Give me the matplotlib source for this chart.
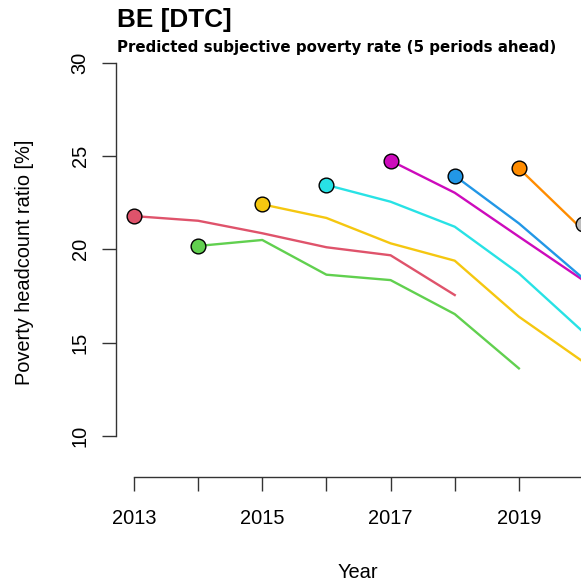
import matplotlib.pyplot as plt

plt.rcParams['font.family'] = ['Liberation Sans', 'DejaVu Sans']

# forecast vintages: start year, predicted values
years = [2013, 2014, 2015, 2016, 2017, 2018, 2019, 2020]
red = [21.78, 21.53, 20.86, 20.11, 19.68, 17.55]
green = [20.18, 20.50, 18.64, 18.35, 16.53, 13.62]
yellow = [22.41, 21.68, 20.32, 19.39, 16.39, 13.98]
cyan = [23.45, 22.55, 21.21, 18.71, 15.58]
magenta = [24.75, 23.03, 20.68, 18.35]
blue = [23.94, 21.39, 18.45]
orange = [24.34, 21.03]
grey = [21.35]

series = [(2013, red, '#DF536B'), (2014, green, '#61D04F'),
          (2015, yellow, '#F5C710'), (2016, cyan, '#28E2E5'),
          (2017, magenta, '#CD0BBC'), (2018, blue, '#2297E6'),
          (2019, orange, '#FF8C00'), (2020, grey, '#BEBEBE')]

W, H = 581, 587
fig = plt.figure(figsize=(W / 100, H / 100), dpi=100)

# plot region in pixels (extends past the right edge, as in the original)
left, bottom, right, top = 116, 477, 601, 47
ax = fig.add_axes([left / W, (H - bottom) / H, (right - left) / W, (bottom - top) / H])
ax.set_xlim(2012.72, 2020.28)
ax.set_ylim(7.8, 30.84)

for start, vals, col in series:
    xs = list(range(start, start + len(vals)))
    ax.plot(xs, vals, color=col, lw=1.7, zorder=2, clip_on=False)
    ax.plot(xs[0], vals[0], 'o', ms=10.6, mfc=col, mec='black', mew=1.0,
            zorder=3, clip_on=False)

for s in ['top', 'right']:
    ax.spines[s].set_visible(False)
ax.spines['left'].set_bounds(10, 30)
ax.spines['bottom'].set_bounds(2013, 2020)
for s in ['left', 'bottom']:
    ax.spines[s].set_linewidth(1.0)
    ax.spines[s].set_color('#333333')

ax.set_xticks(years)
ax.set_xticklabels([str(y) if y % 2 == 1 else '' for y in years])
ax.set_yticks([10, 15, 20, 25, 30])
ax.tick_params(axis='both', direction='out', length=10, width=1.0,
               color='#333333', labelsize=14.4)
ax.tick_params(axis='x', pad=13)
ax.tick_params(axis='y', pad=9, labelrotation=90)
for lab in ax.get_yticklabels():
    lab.set_va('center')

fig.text(25 / W, 1 - 262 / H, 'Poverty headcount ratio [%]', rotation=90,
         ha='center', va='center', fontsize=14.4)
fig.text(358 / W, 1 - 572 / H, 'Year', ha='center', va='center', fontsize=14.4)
fig.text(117 / W, 1 - 27 / H, 'BE [DTC]', ha='left', va='baseline',
         fontsize=18.8, fontweight='bold')
fig.text(117 / W, 1 - 52 / H, 'Predicted subjective poverty rate (5 periods ahead)',
         ha='left', va='baseline', fontsize=10.8, fontweight='bold',
         family='DejaVu Sans')

fig.savefig('out.png', dpi=100)
